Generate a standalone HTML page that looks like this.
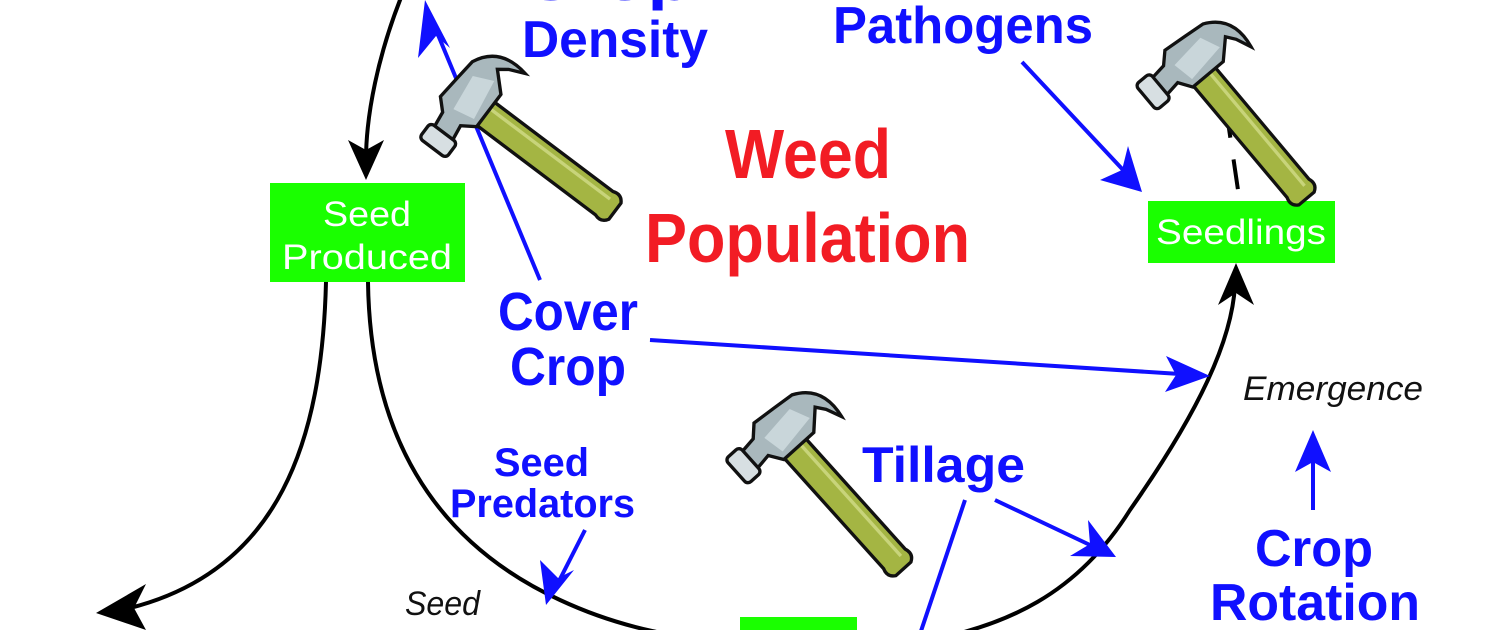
<!DOCTYPE html>
<html><head><style>html,body{margin:0;padding:0;background:#fff;width:1500px;height:630px;overflow:hidden}</style></head>
<body>
<svg width="1500" height="630" viewBox="0 0 1500 630" xmlns="http://www.w3.org/2000/svg" font-family="Liberation Sans, sans-serif">
<defs>
<g id="hm">
  <path d="M8,-13 L150,-13 Q158,-16 162,-9 L162,9 Q158,16 150,13 L8,13 Z" fill="#a4b543" stroke="#111" stroke-width="3"/>
  <path d="M14,-6 L152,-6" stroke="#c8d47a" stroke-width="3"/>
  <path d="M-22,-10 L-20,-30 Q-8,-56 24,-50 L10,-44 L2,-38 L18,-22 L18,14 L6,22 L8,36 L-12,38 L-14,22 L-24,12 Z" fill="#a9b8bd" stroke="#111" stroke-width="3"/>
  <path d="M-12,-20 L6,-28 L12,10 L-8,14 Z" fill="#c9d6da"/>
  <rect x="-17" y="36" width="30" height="17" rx="4" fill="#d7dfe2" stroke="#111" stroke-width="3"/>
</g>
</defs>

<g fill="none" stroke="#000" stroke-width="4">
  <path d="M402,-5 C378,55 366,115 366,160"/>
  <path d="M368,282 C370,430 430,540 560,600 C620,628 680,640 760,645"/>
  <path d="M900,645 C1010,630 1080,590 1130,510 C1200,410 1232,340 1235,285"/>
  <path d="M326,282 C322,440 280,570 130,608"/>
  <path d="M1226,108 L1238,190" stroke-dasharray="30,22"/>
</g>
<polygon points="366,180 348,140 366,150 384,140" fill="#000"/>
<polygon points="1236,263 1218,305 1236,293 1254,305" fill="#000"/>
<polygon points="96,613 146,584 134,608 146,630" fill="#000"/>

<rect x="270" y="183" width="195" height="99" fill="#1aff00"/>
<text x="367" y="226" font-size="35" fill="#fff" text-anchor="middle" textLength="88" lengthAdjust="spacingAndGlyphs">Seed</text>
<text x="367" y="269" font-size="35" fill="#fff" text-anchor="middle" textLength="170" lengthAdjust="spacingAndGlyphs">Produced</text>
<rect x="1148" y="201" width="187" height="62" fill="#1aff00"/>
<text x="1241" y="244" font-size="35" fill="#fff" text-anchor="middle" textLength="170" lengthAdjust="spacingAndGlyphs">Seedlings</text>
<rect x="740" y="617" width="117" height="20" fill="#1aff00"/>

<g stroke="#1010ff" stroke-width="4" fill="none">
  <path d="M540,280 L436,30"/>
  <path d="M650,340 L1180,374"/>
  <path d="M1022,62 L1125,172"/>
  <path d="M1313,510 L1313,455"/>
  <path d="M995,500 L1090,545"/>
  <path d="M965,500 L918,640"/>
  <path d="M585,530 L557,585"/>
</g>
<g fill="#1010ff">
  <polygon points="425,0 450,48 436,36 418,58"/>
  <polygon points="1210,376 1166,356 1176,375 1165,392"/>
  <polygon points="1142,192 1100,180 1122,170 1128,146"/>
  <polygon points="1313,430 1295,472 1313,462 1331,472"/>
  <polygon points="1116,557 1070,556 1090,544 1088,520"/>
  <polygon points="546,605 540,560 558,578 574,570"/>
</g>

<use href="#hm" transform="translate(470,102) rotate(37) scale(1.12)"/>
<use href="#hm" transform="translate(1192,62) rotate(50) scale(1.1)"/>
<use href="#hm" transform="translate(782,434) rotate(48) scale(1.12)"/>

<g fill="#1010ff" font-weight="bold">
  <text x="522" y="0" font-size="50" textLength="170" lengthAdjust="spacingAndGlyphs">Crop</text>
  <text x="522" y="57" font-size="52" textLength="186" lengthAdjust="spacingAndGlyphs">Density</text>
  <text x="833" y="43" font-size="52" textLength="260" lengthAdjust="spacingAndGlyphs">Pathogens</text>
  <text x="498" y="330" font-size="54" textLength="140" lengthAdjust="spacingAndGlyphs">Cover</text>
  <text x="510" y="385" font-size="54" textLength="116" lengthAdjust="spacingAndGlyphs">Crop</text>
  <text x="862" y="482" font-size="50" textLength="163" lengthAdjust="spacingAndGlyphs">Tillage</text>
  <text x="494" y="476" font-size="40" textLength="95" lengthAdjust="spacingAndGlyphs">Seed</text>
  <text x="450" y="517" font-size="40" textLength="185" lengthAdjust="spacingAndGlyphs">Predators</text>
  <text x="1255" y="566" font-size="52" textLength="118" lengthAdjust="spacingAndGlyphs">Crop</text>
  <text x="1210" y="620" font-size="52" textLength="210" lengthAdjust="spacingAndGlyphs">Rotation</text>
</g>
<g fill="#f21c24" font-weight="bold">
  <text x="725" y="178" font-size="70" textLength="166" lengthAdjust="spacingAndGlyphs">Weed</text>
  <text x="645" y="262" font-size="70" textLength="325" lengthAdjust="spacingAndGlyphs">Population</text>
</g>
<g fill="#111" font-style="italic">
  <text x="1243" y="400" font-size="34" textLength="180" lengthAdjust="spacingAndGlyphs">Emergence</text>
  <text x="405" y="615" font-size="34" textLength="75" lengthAdjust="spacingAndGlyphs">Seed</text>
</g>
</svg>
</body></html>
